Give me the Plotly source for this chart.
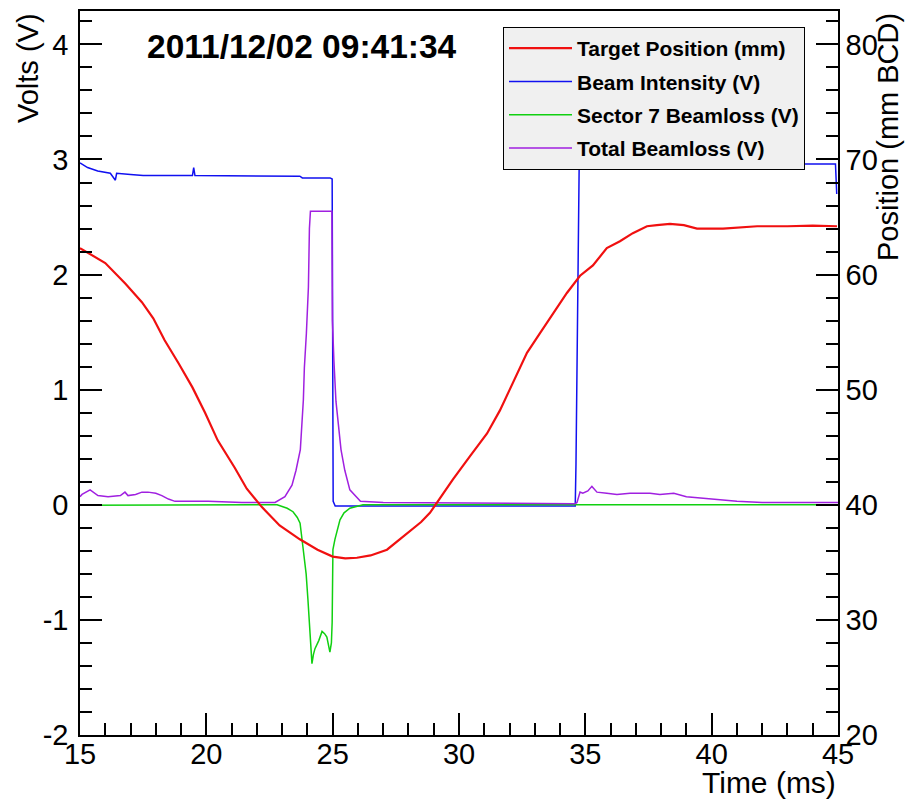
import plotly.graph_objects as go

# ---- Data ----
# Target Position (mm BCD) on the right axis
t_target = [15.0, 16.0, 16.8, 17.45, 17.9, 18.35, 18.9, 19.45, 19.95, 20.45, 21.13, 21.6,
            22.2, 22.9, 23.7, 24.4, 25.0, 25.5, 25.96, 26.5, 27.15, 27.9, 28.5, 28.85,
            29.13, 29.76, 30.43, 31.11, 31.62, 32.14, 32.69, 33.2, 33.72, 34.27, 34.79,
            35.3, 35.85, 36.37, 36.88, 37.44, 37.83, 38.35, 38.9, 39.42, 40.45, 41.1,
            41.8, 43.0, 44.0, 44.96]
pos_target = [62.3, 61.0, 59.2, 57.6, 56.2, 54.3, 52.3, 50.2, 48.0, 45.6, 43.2, 41.4,
              39.8, 38.2, 37.0, 36.1, 35.5, 35.35, 35.4, 35.6, 36.1, 37.4, 38.5, 39.3,
              40.2, 42.2, 44.2, 46.2, 48.2, 50.6, 53.2, 54.9, 56.6, 58.4, 59.9,
              60.8, 62.3, 62.9, 63.6, 64.2, 64.3, 64.4, 64.3, 64.0, 64.0, 64.1,
              64.2, 64.2, 64.25, 64.2]

# Beam Intensity (V)
t_beam = [15.0, 15.3, 15.7, 16.2, 16.4, 16.45, 17.0, 17.5, 19.45, 19.5, 19.55, 21.0,
          23.0, 23.7, 23.8, 24.9, 24.98, 25.02, 25.1, 34.6, 34.63, 34.68, 34.72, 34.76,
          34.85, 36.0, 40.0, 44.9, 44.95]
v_beam = [2.97, 2.93, 2.90, 2.88, 2.82, 2.88, 2.87, 2.86, 2.86, 2.93, 2.86, 2.86,
          2.86, 2.855, 2.84, 2.84, 2.83, 0.03, -0.01, -0.01, 0.35, 1.3, 2.3, 3.03,
          2.96, 2.96, 2.96, 2.96, 2.70]

# Sector 7 Beamloss (V)
t_sector7 = [15.0, 22.8, 23.2, 23.43, 23.6, 23.71, 23.82, 23.95, 24.02, 24.10, 24.18,
             24.24, 24.30, 24.45, 24.58, 24.68, 24.77, 24.89, 24.95, 24.98, 25.01,
             25.09, 25.2, 25.29, 25.45, 25.68, 26.2, 45.0]
v_sector7 = [-0.005, 0.0, -0.03, -0.06, -0.11, -0.16, -0.36, -0.6, -0.82, -1.08, -1.38,
             -1.30, -1.25, -1.18, -1.10, -1.12, -1.15, -1.28, -1.2, -1.02, -0.39,
             -0.30, -0.2, -0.13, -0.07, -0.03, 0.0, 0.0]

# Total Beamloss (V)
t_total = [15.0, 15.08, 15.4, 15.71, 16.11, 16.6, 16.78, 16.9, 17.2, 17.45, 17.69, 18.0,
           18.24, 18.5, 18.76, 20.07, 21.41, 22.72, 23.11, 23.39, 23.55, 23.65, 23.72,
           23.84, 23.88, 23.96, 24.04, 24.08, 24.12, 24.97, 24.99, 25.05, 25.13, 25.33,
           25.48, 25.68, 26.1, 27.0, 34.6, 34.67, 34.79, 34.9, 35.1, 35.26, 35.46,
           35.85, 36.25, 36.77, 37.16, 37.56, 37.95, 38.5, 39.0, 39.5, 40.0, 41.0,
           42.0, 45.0]
v_total = [0.07, 0.09, 0.13, 0.08, 0.07, 0.08, 0.11, 0.08, 0.09, 0.11, 0.11, 0.10,
           0.08, 0.05, 0.03, 0.03, 0.02, 0.02, 0.07, 0.17, 0.30, 0.40, 0.48,
           0.91, 1.19, 1.49, 1.89, 2.40, 2.55, 2.55, 1.60, 1.25, 0.90, 0.48,
           0.30, 0.13, 0.03, 0.02, 0.01, 0.02, 0.11, 0.10, 0.12, 0.16, 0.11,
           0.10, 0.09, 0.10, 0.10, 0.10, 0.09, 0.10, 0.07, 0.06, 0.05, 0.03,
           0.02, 0.02]

# Tick labels
volt_ticks = [-2, -1, 0, 1, 2, 3, 4]
volt_labels = ["-2", "-1", "0", "1", "2", "3", "4"]

title_text = "2011/12/02 09:41:34"
x_title = "Time (ms)"
y_title = "Volts (V)"
y2_title = "Position (mm BCD)"

FONT = "Liberation Sans"

fig = go.Figure()
fig.add_trace(go.Scatter(x=t_beam, y=v_beam, mode="lines", name="Beam Intensity (V)",
                         line=dict(color="#1010f0", width=1.5), legendrank=2,
                         legendgroup="b", yaxis="y"))
fig.add_trace(go.Scatter(x=t_sector7, y=v_sector7, mode="lines", name="Sector 7 Beamloss (V)",
                         line=dict(color="#10d010", width=1.5), legendrank=3,
                         legendgroup="c", yaxis="y"))
fig.add_trace(go.Scatter(x=t_total, y=v_total, mode="lines", name="Total Beamloss (V)",
                         line=dict(color="#a020e0", width=1.5), legendrank=4,
                         legendgroup="d", yaxis="y"))
fig.add_trace(go.Scatter(x=t_target, y=pos_target, mode="lines", name="Target Position (mm)",
                         line=dict(color="#f01010", width=2.2), legendrank=1,
                         legendgroup="a", yaxis="y2"))

L, R, T, B = 80, 67, 9, 65
W, H = 905, 800
pw, ph = W - L - R, H - T - B


def px(xp):
    return (xp - L) / pw


def py(yp):
    return (H - B - yp) / ph


axis_common = dict(showline=True, linecolor="black", linewidth=1.5, ticks="inside",
                   tickcolor="black", tickwidth=1.5, ticklen=22, showgrid=False,
                   zeroline=False, tickfont=dict(family=FONT, size=29, color="black"))

fig.update_layout(
    width=W, height=H,
    margin=dict(l=L, r=R, t=T, b=B),
    paper_bgcolor="white", plot_bgcolor="white",
    font=dict(family=FONT, color="black"),
    xaxis=dict(range=[15, 45], tick0=15, dtick=5, mirror=True, ticklabelstandoff=-8,
               minor=dict(dtick=1, ticklen=12, ticks="inside", tickcolor="black", tickwidth=1.5),
               **axis_common),
    yaxis=dict(range=[-2, 4.29], tickmode="array", tickvals=volt_ticks, ticktext=volt_labels,
               ticklabelstandoff=4,
               minor=dict(dtick=0.2, tick0=0, ticklen=12, ticks="inside", tickcolor="black",
                          tickwidth=1.5),
               **axis_common),
    yaxis2=dict(range=[20, 82.9], tick0=20, dtick=10, overlaying="y", side="right",
                minor=dict(dtick=2, ticklen=12, ticks="inside", tickcolor="black", tickwidth=1.5),
                **axis_common),
    legend=dict(x=px(503), y=py(25), xanchor="left", yanchor="top",
                bgcolor="#f0f0f0", bordercolor="black", borderwidth=1,
                font=dict(family=FONT, size=21, color="black", weight="bold"),
                itemwidth=63, tracegroupgap=3, traceorder="grouped"),
    showlegend=True,
)

fig.add_annotation(text="<b>" + title_text + "</b>", xref="paper", yref="paper",
                   x=px(301.5), y=py(45), xanchor="center", yanchor="middle",
                   showarrow=False, font=dict(family=FONT, size=33.5, color="black"))
fig.add_annotation(text=x_title, xref="paper", yref="paper",
                   x=1.0, y=py(783), xanchor="right", yanchor="middle",
                   showarrow=False, font=dict(family=FONT, size=30, color="black"))
fig.add_annotation(text=y_title, xref="paper", yref="paper",
                   x=px(28), y=py(9), xanchor="center", yanchor="top", textangle=-90,
                   showarrow=False, font=dict(family=FONT, size=29, color="black"))
fig.add_annotation(text=y2_title, xref="paper", yref="paper",
                   x=px(888), y=py(9), xanchor="center", yanchor="top", textangle=-90,
                   showarrow=False, font=dict(family=FONT, size=29, color="black"))

fig.write_html("out.html", config={"displayModeBar": False},
               post_script="document.body.style.margin='0';")
